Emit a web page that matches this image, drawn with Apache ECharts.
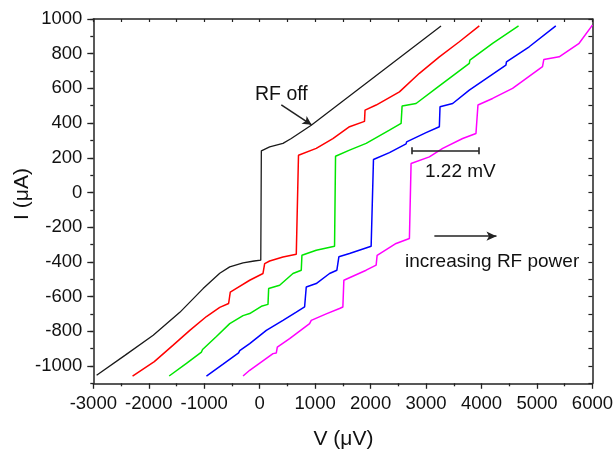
<!DOCTYPE html>
<html>
<head>
<meta charset="utf-8">
<script src="https://cdn.jsdelivr.net/npm/echarts@6/dist/echarts.min.js"></script>
<style>html,body{margin:0;padding:0;background:#fff;}#c{width:616px;height:452px;}</style>
</head>
<body>
<div id="c"></div>
<script>
// I-V curves: [V (µV), I (µA)]
const rfOff = [[-2940,-1054],[-2430,-939],[-1920,-823],[-1440,-691],[-1020,-554],[-720,-466],[-540,-429],[-300,-406],[-100,-395],[20,-390],[30,240],[180,263],[420,283],[570,311],[930,388],[3270,960]];
const rf1 = [[-2292,-1058],[-1900,-975],[-1560,-880],[-1260,-795],[-960,-715],[-720,-662],[-560,-640],[-540,-637],[-530,-575],[-420,-553],[-180,-506],[60,-467],[75,-467],[90,-410],[180,-395],[420,-372],[660,-356],[690,-352],[700,215],[1020,254],[1320,311],[1620,379],[1890,410],[1900,475],[2100,504],[2520,580],[2880,687],[3240,782],[3600,869],[3960,960]];
const rf2 = [[-1632,-1058],[-1320,-985],[-1050,-920],[-1030,-905],[-780,-830],[-540,-756],[-300,-710],[-180,-698],[30,-656],[150,-645],[162,-554],[360,-535],[600,-467],[750,-448],[762,-362],[1020,-333],[1350,-310],[1368,209],[1620,244],[1920,283],[2340,359],[2550,398],[2568,498],[2820,513],[3180,600],[3780,744],[3790,763],[4200,860],[4668,960]];
const rf3 = [[-960,-1058],[-660,-990],[-380,-925],[-360,-912],[-180,-871],[120,-795],[420,-737],[660,-690],[810,-660],[840,-545],[1020,-525],[1260,-467],[1392,-448],[1428,-371],[1620,-352],[2010,-310],[2052,190],[2340,230],[2640,280],[2650,292],[3000,345],[3240,379],[3252,494],[3480,513],[3780,590],[4440,734],[4450,753],[4860,840],[5340,960]];
const rf4 = [[-300,-1058],[-180,-1025],[240,-929],[300,-925],[318,-891],[540,-842],[900,-756],[930,-737],[1200,-700],[1440,-669],[1500,-660],[1518,-506],[1920,-448],[2100,-419],[2118,-362],[2460,-294],[2700,-265],[2730,167],[3060,205],[3300,254],[3660,311],[3900,340],[3936,504],[4200,542],[4560,600],[5100,725],[5124,767],[5400,782],[5760,860],[6000,965]];
const seriesColors = ['#1a1a1a','#ff0000','#00e600','#0000ff','#ff00ff'];
const xTicks = [-3000,-2000,-1000,0,1000,2000,3000,4000,5000,6000];
const yTicks = [-1000,-800,-600,-400,-200,0,200,400,600,800,1000];
// annotations (data coords)
const rfOffArrow = [[390,505],[936,390]];
const powerArrow = [[3150,-252],[4270,-252]];
const scaleBar = [[2750,240],[3950,240]];

const FONT = 'Liberation Sans, Arial, sans-serif';
const TXT = '#111';
const chart = echarts.init(document.getElementById('c'), null, {renderer:'canvas'});
const G = {left:93.3, right:22.7, top:19};
const axLine = {show:true, onZero:false, lineStyle:{color:'#222', width:1.5}};

function lineSeries(d, color, extra){
  return Object.assign({type:'line', data:d, xAxisIndex:0, yAxisIndex:0, showSymbol:false, symbol:'none',
    lineStyle:{color:color, width:1.5}, itemStyle:{color:color}, animation:false, silent:true, z:3}, extra||{});
}
const mlBase = {silent:true, animation:false, label:{show:false}, lineStyle:{color:'#222', width:1.6, type:'solid'}, emphasis:{disabled:true}};

chart.setOption({
  animation:false,
  grid:[
    Object.assign({bottom:68.7}, G),
    Object.assign({bottom:86.04}, G)
  ],
  xAxis:[
    {type:'value', gridIndex:0, position:'bottom', min:-3000, max:6000, interval:1000,
     axisLine:axLine, axisTick:{show:true, length:5.5, inside:false, lineStyle:{color:'#222', width:1.3}},
     minorTick:{show:true, splitNumber:2, length:3, lineStyle:{color:'#222', width:1.3}},
     splitLine:{show:false},
     axisLabel:{show:true, margin:11, fontSize:18.5, fontFamily:FONT, color:TXT,
       formatter:(v)=> xTicks.indexOf(v)>=0 ? String(v) : ''}},
    {type:'value', gridIndex:0, position:'top', min:-3000, max:6000, interval:500,
     axisLine:axLine, axisTick:{show:true, inside:true, length:3, lineStyle:{color:'#222', width:1.2}},
     axisLabel:{show:false}, splitLine:{show:false}},
    {type:'value', gridIndex:1, min:-3000, max:6000, show:false, axisLine:{onZero:false}}
  ],
  yAxis:[
    {type:'value', gridIndex:0, position:'left', min:-1100, max:1000, interval:100,
     axisLine:axLine, axisTick:{show:true, length:3, lineStyle:{color:'#222', width:1.3}},
     axisLabel:{show:false}, splitLine:{show:false}},
    {type:'value', gridIndex:0, position:'right', min:-1100, max:1000, interval:100,
     axisLine:axLine, axisTick:{show:true, inside:true, length:4, lineStyle:{color:'#222', width:1.2}},
     axisLabel:{show:false}, splitLine:{show:false}},
    {type:'value', gridIndex:1, position:'left', min:-1000, max:1000, interval:200,
     axisLine:{show:false, onZero:false}, axisTick:{show:true, length:6, lineStyle:{color:'#222', width:1.3}},
     axisLabel:{show:true, margin:11, fontSize:18.5, fontFamily:FONT, color:TXT,
       formatter:(v)=> yTicks.indexOf(v)>=0 ? String(v) : ''},
     splitLine:{show:false}}
  ],
  series:[
    lineSeries(rfOff, seriesColors[0], {lineStyle:{color:seriesColors[0], width:1.3},
      markLine:Object.assign({}, mlBase, {symbol:['none','arrow'], symbolSize:[7,9],
        data:[[{coord:rfOffArrow[0]},{coord:rfOffArrow[1]}]]})}),
    lineSeries(rf1, seriesColors[1], {
      markLine:Object.assign({}, mlBase, {symbol:['none','arrow'], symbolSize:[7,10],
        data:[[{coord:powerArrow[0]},{coord:powerArrow[1]}]]})}),
    lineSeries(rf2, seriesColors[2], {
      markLine:Object.assign({}, mlBase, {symbol:['none','none'],
        data:[
          [{coord:scaleBar[0]},{coord:scaleBar[1]}],
          [{coord:[scaleBar[0][0], scaleBar[0][1]-20]},{coord:[scaleBar[0][0], scaleBar[0][1]+20]}],
          [{coord:[scaleBar[1][0], scaleBar[1][1]-20]},{coord:[scaleBar[1][0], scaleBar[1][1]+20]}]
        ]})}),
    lineSeries(rf3, seriesColors[3]),
    lineSeries(rf4, seriesColors[4])
  ],
  graphic:[
    {type:'text', x:22, y:194, rotation:Math.PI/2, silent:true,
     style:{text:'I (μA)', x:0, y:0, fill:TXT, fontSize:21, fontFamily:FONT, align:'center', verticalAlign:'middle', textAlign:'center', textVerticalAlign:'middle'}},
    {type:'text', x:343.5, y:439, silent:true,
     style:{text:'V (μV)', x:0, y:0, fill:TXT, fontSize:21, fontFamily:FONT, align:'center', verticalAlign:'middle', textAlign:'center', textVerticalAlign:'middle'}},
    {type:'text', x:255, y:94.5, silent:true,
     style:{text:'RF off', x:0, y:0, fill:TXT, fontSize:19.5, fontFamily:FONT, align:'left', verticalAlign:'middle', textAlign:'left', textVerticalAlign:'middle'}},
    {type:'text', x:425, y:171.5, silent:true,
     style:{text:'1.22 mV', x:0, y:0, fill:TXT, fontSize:19, fontFamily:FONT, align:'left', verticalAlign:'middle', textAlign:'left', textVerticalAlign:'middle'}},
    {type:'text', x:405, y:262, silent:true,
     style:{text:'increasing RF power', x:0, y:0, fill:TXT, fontSize:19, fontFamily:FONT, align:'left', verticalAlign:'middle', textAlign:'left', textVerticalAlign:'middle'}}
  ]
});
</script>
</body>
</html>
